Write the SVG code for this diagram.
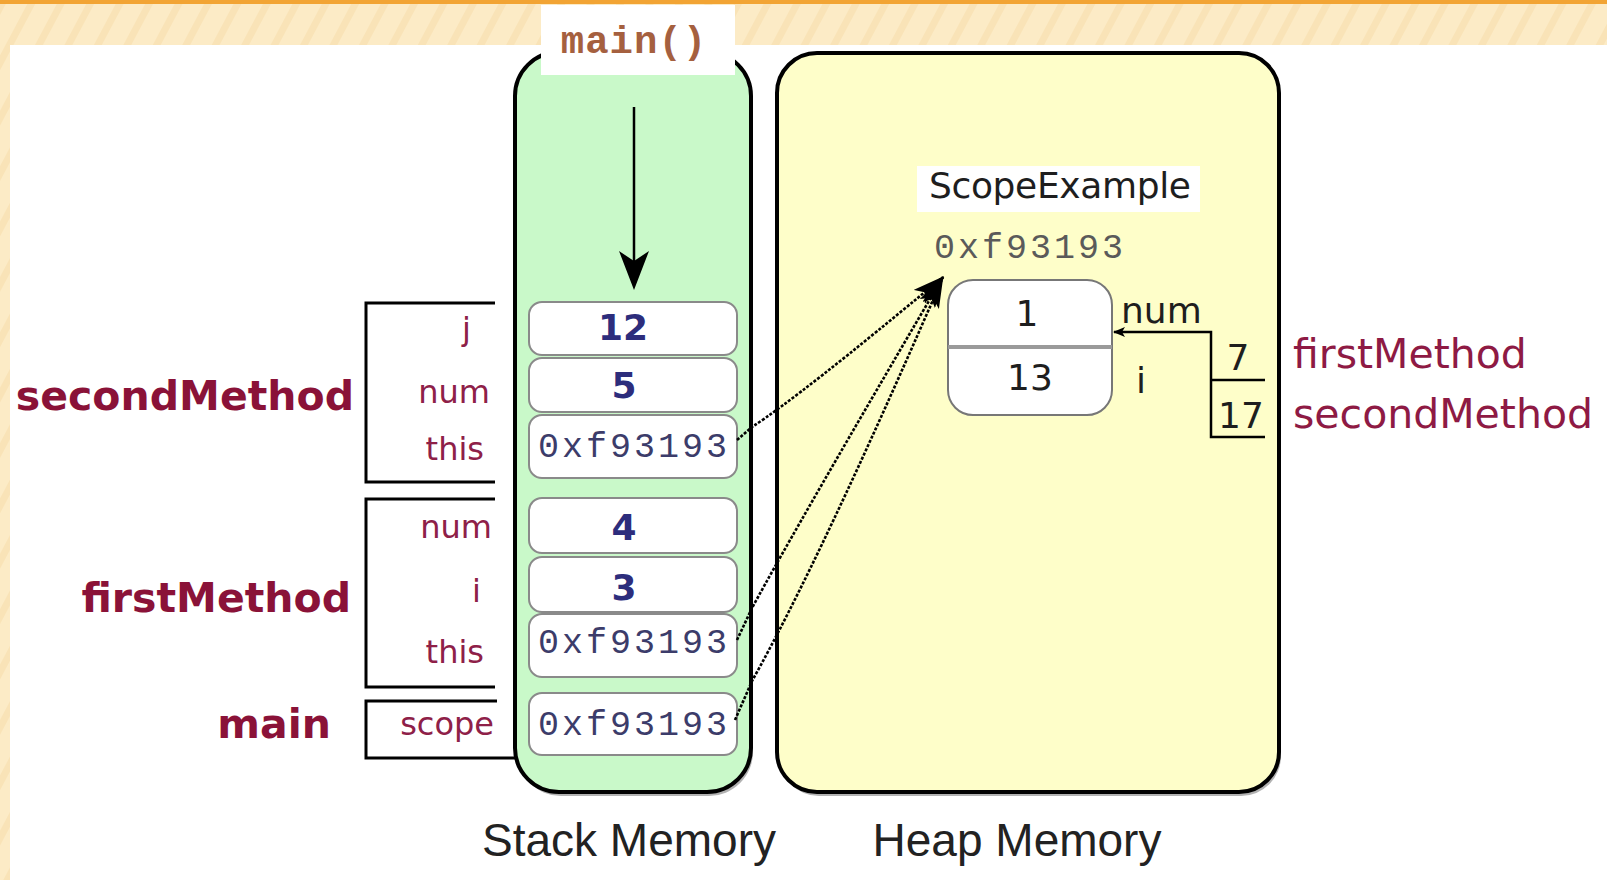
<svg xmlns="http://www.w3.org/2000/svg" width="1607" height="880" viewBox="0 0 1607 880">
  <style>
    .frame { stroke: #000; stroke-width: 4; }
    .cell { fill: #fff; stroke: #8a8a8a; stroke-width: 2; }
    .val { font-family: "DejaVu Sans", Verdana, sans-serif; font-weight: bold; font-size: 36px; fill: #2d2d7c; text-anchor: middle; }
    .addr { font-family: "Liberation Mono", "Courier New", monospace; font-size: 35px; letter-spacing: 3px; }
    .var { font-family: "DejaVu Sans", Verdana, sans-serif; font-size: 32px; fill: #8e2048; text-anchor: end; }
    .method { font-family: "DejaVu Sans", Verdana, sans-serif; font-weight: bold; font-size: 41px; fill: #8a1238; text-anchor: end; }
    .heaptxt { font-family: "DejaVu Sans", Verdana, sans-serif; font-size: 36px; fill: #1e1e1e; }
    .rlabel { font-family: "DejaVu Sans", Verdana, sans-serif; font-size: 41px; fill: #8e1a44; }
    .caption { font-family: "Liberation Sans", Arial, sans-serif; font-size: 46px; fill: #222; text-anchor: middle; }
    .bracket { fill: none; stroke: #000; stroke-width: 3; }
    .ref { fill: none; stroke: #000; stroke-width: 2.6; stroke-dasharray: 3 1.6; }
    .line { fill: none; stroke: #000; stroke-width: 2.5; }
  </style>
  <defs>
    <pattern id="stripes" width="26" height="26" patternUnits="userSpaceOnUse" patternTransform="rotate(28)">
      <rect width="26" height="26" fill="#fcebc6"/>
      <rect width="7" height="26" fill="#f6deae" opacity="0.6"/>
    </pattern>
    <marker id="refHead" viewBox="0 0 32 18" refX="31" refY="9" markerWidth="32" markerHeight="18" markerUnits="userSpaceOnUse" orient="auto">
      <path d="M0,0 L32,9 L0,18 L7,9 Z" fill="#000"/>
    </marker>
    <marker id="smallHead" viewBox="0 0 12 10" refX="11" refY="5" markerWidth="12" markerHeight="10" markerUnits="userSpaceOnUse" orient="auto">
      <path d="M0,0 L12,5 L0,10 L3,5 Z" fill="#000"/>
    </marker>
  </defs>

  <!-- page background -->
  <rect x="0" y="0" width="1607" height="880" fill="url(#stripes)"/>
  <rect x="0" y="0" width="1607" height="4" fill="#f2a434"/>
  <rect x="10" y="45" width="1597" height="835" fill="#fff"/>

  <!-- stack memory column -->
  <g id="stack">
    <rect x="517" y="55" width="236" height="741" rx="44" fill="#222" opacity="0.35"/>
    <rect class="frame" x="515" y="52" width="236" height="740" rx="44" fill="#c9f9c9"/>
  </g>

  <!-- heap memory area -->
  <g id="heap">
    <rect x="779" y="56" width="502" height="740" rx="40" fill="#222" opacity="0.35"/>
    <rect class="frame" x="777" y="53" width="502" height="739" rx="40" fill="#fefec9"/>
  </g>

  <!-- entry label -->
  <g id="entry">
    <rect x="541" y="5" width="194" height="70" fill="#fff"/>
    <text x="634" y="53" text-anchor="middle" font-family="Liberation Mono, Courier New, monospace" font-weight="bold" font-size="39" letter-spacing="1" fill="#a5603f">main()</text>
  </g>

  <!-- stack cells -->
  <g id="cell-j">
    <rect class="cell" x="529" y="302" width="208" height="53" rx="13"/>
    <text class="val" x="623" y="340">12</text>
  </g>
  <g id="cell-num2">
    <rect class="cell" x="529" y="358" width="208" height="54" rx="13"/>
    <text class="val" x="624" y="398">5</text>
  </g>
  <g id="cell-this2">
    <rect class="cell" x="529" y="415" width="208" height="63" rx="13"/>
    <text class="addr" x="538" y="457" fill="#3c3c6a">0xf93193</text>
  </g>
  <g id="cell-num1">
    <rect class="cell" x="529" y="498" width="208" height="55" rx="13"/>
    <text class="val" x="624" y="540">4</text>
  </g>
  <g id="cell-i">
    <rect class="cell" x="529" y="557" width="208" height="55" rx="13"/>
    <text class="val" x="624" y="600">3</text>
  </g>
  <g id="cell-this1">
    <rect class="cell" x="529" y="614" width="208" height="63" rx="13"/>
    <text class="addr" x="538" y="653" fill="#3c3c6a">0xf93193</text>
  </g>
  <g id="cell-scope">
    <rect class="cell" x="529" y="693" width="208" height="62" rx="13"/>
    <text class="addr" x="538" y="735" fill="#3c3c6a">0xf93193</text>
  </g>

  <!-- frame brackets and variable names -->
  <g id="frame-secondMethod">
    <path class="bracket" d="M495,303 H366 V482 H495"/>
    <text class="var" x="471" y="340">j</text>
    <text class="var" x="490" y="403">num</text>
    <text class="var" x="484" y="460">this</text>
    <text class="method" x="354" y="410">secondMethod</text>
  </g>
  <g id="frame-firstMethod">
    <path class="bracket" d="M495,499 H366 V687 H495"/>
    <text class="var" x="492" y="538">num</text>
    <text class="var" x="481" y="602">i</text>
    <text class="var" x="484" y="663">this</text>
    <text class="method" x="351" y="612">firstMethod</text>
  </g>
  <g id="frame-main">
    <path class="bracket" d="M497,701 H366 V758 H515"/>
    <text class="var" x="494" y="735">scope</text>
    <text class="method" x="331" y="738">main</text>
  </g>

  <!-- heap object -->
  <g id="object">
    <rect x="917" y="166" width="283" height="46" fill="#fff"/>
    <text class="heaptxt" x="929" y="198" font-size="32" textLength="262" lengthAdjust="spacing">ScopeExample</text>
    <text class="addr" x="934" y="258" fill="#5a5a5a">0xf93193</text>
    <rect x="948" y="280" width="164" height="135" rx="25" fill="#fff" stroke="#777" stroke-width="2"/>
    <line x1="948" y1="347" x2="1112" y2="347" stroke="#9a9a9a" stroke-width="4"/>
    <text class="heaptxt" x="1027" y="326" text-anchor="middle">1</text>
    <text class="heaptxt" x="1030" y="390" text-anchor="middle" font-size="37">13</text>
    <text class="heaptxt" x="1121" y="323" font-size="37">num</text>
    <text class="heaptxt" x="1136" y="393" font-size="37">i</text>
  </g>

  <!-- static num history -->
  <g id="num-history">
    <path class="line" d="M1265,380 H1211 M1265,437 H1211 V332 H1114" marker-end="url(#smallHead)"/>
    <text class="heaptxt" x="1238" y="370" text-anchor="middle">7</text>
    <text class="heaptxt" x="1241" y="428" text-anchor="middle">17</text>
    <text class="rlabel" x="1293" y="368">firstMethod</text>
    <text class="rlabel" x="1293" y="428">secondMethod</text>
  </g>

  <!-- connectors -->
  <g id="connectors">
    <path class="line" d="M634,107 V262"/>
    <path d="M634,290 L619,251 L634,261 L649,251 Z" fill="#000"/>
    <path class="ref" d="M737,440 L752,427 Q800,396 943,277" marker-end="url(#refHead)"/>
    <path class="ref" d="M737,640 L752,608 Q800,520 943,277" marker-end="url(#refHead)"/>
    <path class="ref" d="M735,720 L752,681 Q820,560 943,277" marker-end="url(#refHead)"/>
  </g>

  <!-- captions -->
  <text class="caption" x="629" y="856">Stack Memory</text>
  <text class="caption" x="1017" y="856">Heap Memory</text>
</svg>
